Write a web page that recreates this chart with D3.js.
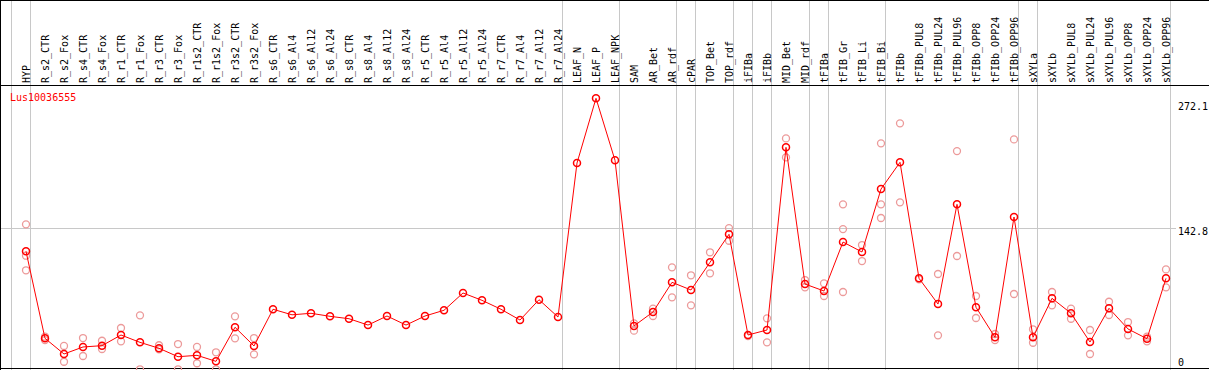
<!DOCTYPE html>
<html>
<head>
<meta charset="utf-8">
<script src="https://cdn.jsdelivr.net/npm/d3@7"></script>
<style>
  html, body { margin: 0; padding: 0; background: #fff; }
  svg { display: block; }
  text { font-family: "DejaVu Sans Mono", monospace; font-size: 10px; }
</style>
</head>
<body>
<div id="chart"></div>
<script>
// gene id shown in the plot
var geneId = "Lus10036555";

// sample names (one column each)
var samples = ["HYP",
    "R_s2_CTR", "R_s2_Fox", "R_s4_CTR", "R_s4_Fox", "R_r1_CTR", "R_r1_Fox",
    "R_r3_CTR", "R_r3_Fox", "R_r1s2_CTR", "R_r1s2_Fox", "R_r3s2_CTR", "R_r3s2_Fox",
    "R_s6_CTR", "R_s6_Al4", "R_s6_Al12", "R_s6_Al24",
    "R_s8_CTR", "R_s8_Al4", "R_s8_Al12", "R_s8_Al24",
    "R_r5_CTR", "R_r5_Al4", "R_r5_Al12", "R_r5_Al24",
    "R_r7_CTR", "R_r7_Al4", "R_r7_Al12", "R_r7_Al24",
    "LEAF_N", "LEAF_P", "LEAF_NPK", "SAM", "AR_Bet", "AR_rdf", "cPAR",
    "TOP_Bet", "TOP_rdf", "iFIBa", "iFIBb", "MID_Bet", "MID_rdf", "tFIBa",
    "tFIB_Gr", "tFIB_Li", "tFIB_Bi", "tFIBb",
    "tFIBb_PUL8", "tFIBb_PUL24", "tFIBb_PUL96", "tFIBb_OPP8", "tFIBb_OPP24", "tFIBb_OPP96",
    "sXYLa", "sXYLb",
    "sXYLb_PUL8", "sXYLb_PUL24", "sXYLb_PUL96", "sXYLb_OPP8", "sXYLb_OPP24", "sXYLb_OPP96"];

// mean expression per sample
var means = [119.9,
    33.3, 17.7, 24.7, 26.0, 36.6, 29.3,
    23.4, 15.0, 16.4, 10.4, 44.3, 25.7,
    62.2, 56.7, 58.2, 55.2,
    52.8, 46.5, 55.5, 46.5,
    55.5, 61.2, 78.4, 71.1,
    62.2, 51.5, 71.7, 54.5,
    207.7, 272.1, 210.4, 45.6, 59.5, 89.0, 81.4,
    108.9, 136.8, 36.6, 41.6, 223.3, 87.3, 80.4,
    129.1, 119.2, 181.8, 208.4,
    93.0, 67.4, 166.6, 64.2, 34.3, 154.0,
    34.3, 73.1,
    58.2, 29.6, 63.2, 42.6, 32.9, 93.0];

// replicate values per sample
var replicates = [[146.7, 115.5, 101.0],
    [34.9, 31.6], [25.7, 10.0], [33.6, 15.7], [30.9, 22.7], [43.6, 30.3], [56.2, 2.5],
    [26.4, 22.4], [27.6, 2.5], [24.7, 8.5], [19.4, 2.5], [55.2, 33.3], [33.6, 17.4],
    [], [], [], [],
    [], [], [], [],
    [], [], [], [],
    [], [], [], [],
    [], [], [], [48.2, 40.9], [62.8, 55.5], [103.9, 74.1], [96.0, 66.1],
    [118.9, 98.0], [143.0, 130.4], [35.6], [53.2, 29.3], [232.2, 213.3], [91.3, 84.0], [88.0, 75.4],
    [166.6, 142.0, 79.4], [126.1, 110.2], [227.3, 166.6, 153.0], [247.2, 168.6],
    [92.0], [97.3, 36.3], [219.6, 115.2], [75.4, 53.5], [37.6, 31.6], [231.2, 77.4],
    [42.3, 28.9], [79.4, 66.1],
    [62.8, 52.8], [41.6, 17.7], [69.7, 56.5], [49.5, 36.3], [34.9, 30.3], [101.9, 84.0]];

// right hand tick values
var tickValues = [272.1, 142.8, 0];
var refLine = 142.8;

// group separators (index of the column they sit before)
var separators = [0, 1, 29, 32, 35, 36, 38, 39, 40, 42, 43, 46, 53, 54, 61];

var width = 1209, height = 370;
var headerY = 85.5;

var svg = d3.select("#chart").append("svg")
    .attr("width", width)
    .attr("height", height);

var x = d3.scaleBand()
    .domain(samples)
    .range([11, 1170]);

var y = d3.scaleLinear()
    .domain([0, 272.1])
    .range([371.8, 98.3]);

function px(name) { return x(name) + 15; }

// grey separators
svg.append("g").selectAll("line")
    .data(separators)
    .enter().append("line")
    .attr("x1", function (d) { return 11 + d * x.step() + 0.5; })
    .attr("x2", function (d) { return 11 + d * x.step() + 0.5; })
    .attr("y1", 0).attr("y2", height)
    .attr("stroke", "#c8c8c8").attr("stroke-width", 1);

// reference line
svg.append("line")
    .attr("x1", 1).attr("x2", 1176)
    .attr("y1", Math.round(y(refLine)) + 0.5).attr("y2", Math.round(y(refLine)) + 0.5)
    .attr("stroke", "#c8c8c8").attr("stroke-width", 1);

// frame
svg.append("line").attr("x1", 0).attr("x2", width).attr("y1", 0.5).attr("y2", 0.5)
    .attr("stroke", "#000");
svg.append("line").attr("x1", 0).attr("x2", width).attr("y1", headerY).attr("y2", headerY)
    .attr("stroke", "#000");
svg.append("line").attr("x1", 0).attr("x2", width).attr("y1", 368.5).attr("y2", 368.5)
    .attr("stroke", "#000");
svg.append("line").attr("x1", 0.5).attr("x2", 0.5).attr("y1", 0).attr("y2", height)
    .attr("stroke", "#000");

// sample labels
svg.append("g").selectAll("text")
    .data(samples)
    .enter().append("text")
    .attr("transform", function (d) { return "translate(" + (px(d) + 4) + "," + 83 + ")rotate(-90)"; })
    .attr("fill", "#000")
    .text(function (d) { return d; });

// gene id
svg.append("text")
    .attr("x", 10).attr("y", 101)
    .attr("fill", "#f00")
    .text(geneId);

// right ticks
svg.append("g").selectAll("text")
    .data(tickValues)
    .enter().append("text")
    .attr("x", 1178)
    .attr("y", function (d) { return Math.max(110, Math.min(366, y(d) + 7)); })
    .attr("fill", "#000")
    .text(function (d) { return d; });

// replicate points
var repPts = [];
replicates.forEach(function (r, i) {
    r.forEach(function (v) { repPts.push({ name: samples[i], v: v }); });
});
svg.append("g").selectAll("circle")
    .data(repPts)
    .enter().append("circle")
    .attr("cx", function (d) { return px(d.name); })
    .attr("cy", function (d) { return y(d.v); })
    .attr("r", 3.5)
    .attr("fill", "none")
    .attr("stroke", "#ec9a9a")
    .attr("stroke-width", 1.3);

// mean line
var line = d3.line()
    .x(function (d, i) { return px(samples[i]); })
    .y(function (d) { return y(d); });

svg.append("path")
    .datum(means)
    .attr("d", line)
    .attr("fill", "none")
    .attr("stroke", "#f00")
    .attr("stroke-width", 1);

svg.append("g").selectAll("circle")
    .data(means)
    .enter().append("circle")
    .attr("cx", function (d, i) { return px(samples[i]); })
    .attr("cy", function (d) { return y(d); })
    .attr("r", 3.5)
    .attr("fill", "none")
    .attr("stroke", "#f00")
    .attr("stroke-width", 1.5);
</script>
</body>
</html>
